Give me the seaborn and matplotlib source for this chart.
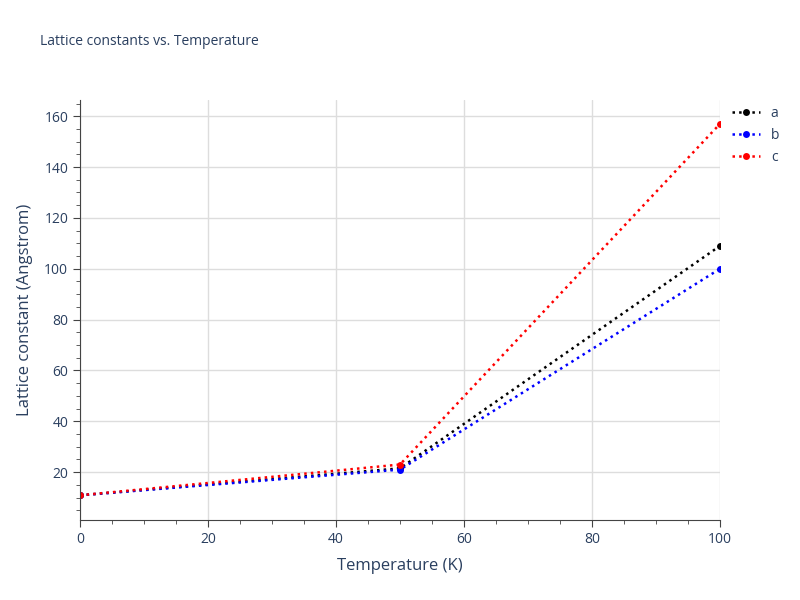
import matplotlib
matplotlib.use('Agg')
import matplotlib.pyplot as plt
import seaborn as sns
import pandas as pd

temps = [0, 50, 100]
lat_a = [10.9, 21.5, 109.0]
lat_b = [10.9, 21.0, 100.0]
lat_c = [10.9, 23.0, 157.0]

df = pd.DataFrame({'T': temps * 3,
                   'v': lat_a + lat_b + lat_c,
                   'name': ['a'] * 3 + ['b'] * 3 + ['c'] * 3})

sns.set_style('white')
plt.rcParams['font.family'] = ['Open Sans', 'DejaVu Sans']
fig = plt.figure(figsize=(8, 6), dpi=100)
ax = fig.add_axes([0.1, 0.133, 0.8, 0.7])

colors = {'a': 'black', 'b': 'blue', 'c': 'red'}
for name, g in df.groupby('name'):
    sns.lineplot(data=g, x='T', y='v', ax=ax, color=colors[name], linestyle=':',
                 linewidth=1.8, marker='o', markersize=5, markeredgewidth=0, label=name)

ax.set_xlim(0, 100)
ax.set_ylim(1.1, 166.3)
ax.set_xticks([0, 20, 40, 60, 80, 100])
ax.set_yticks([20, 40, 60, 80, 100, 120, 140, 160])
ax.set_xticks(range(0, 101, 5), minor=True)
ax.set_yticks(range(5, 166, 5), minor=True)
ax.grid(True, which='major', color='#dddddd', linewidth=1)
for s in ['top', 'right']:
    ax.spines[s].set_visible(False)
ax.spines['left'].set_color('#444444')
ax.spines['bottom'].set_color('#444444')
ax.tick_params(which='major', direction='out', length=5, color='#444444', labelcolor='#2a3f5f', labelsize=10, left=True, bottom=True)
ax.tick_params(which='minor', direction='out', length=3, color='#444444', left=True, bottom=True)
ax.set_xlabel('Temperature (K)', color='#2a3f5f', fontsize=12, labelpad=8)
ax.set_ylabel('Lattice constant (Angstrom)', color='#2a3f5f', fontsize=12, labelpad=8)
fig.text(0.05, 0.925, 'Lattice constants vs. Temperature', color='#2a3f5f', fontsize=10)
ax.legend(loc='upper left', bbox_to_anchor=(1.01, 1.0), frameon=False, fontsize=10,
          labelcolor='#2a3f5f', handlelength=2, borderaxespad=0)
fig.savefig('out.png', dpi=100)
